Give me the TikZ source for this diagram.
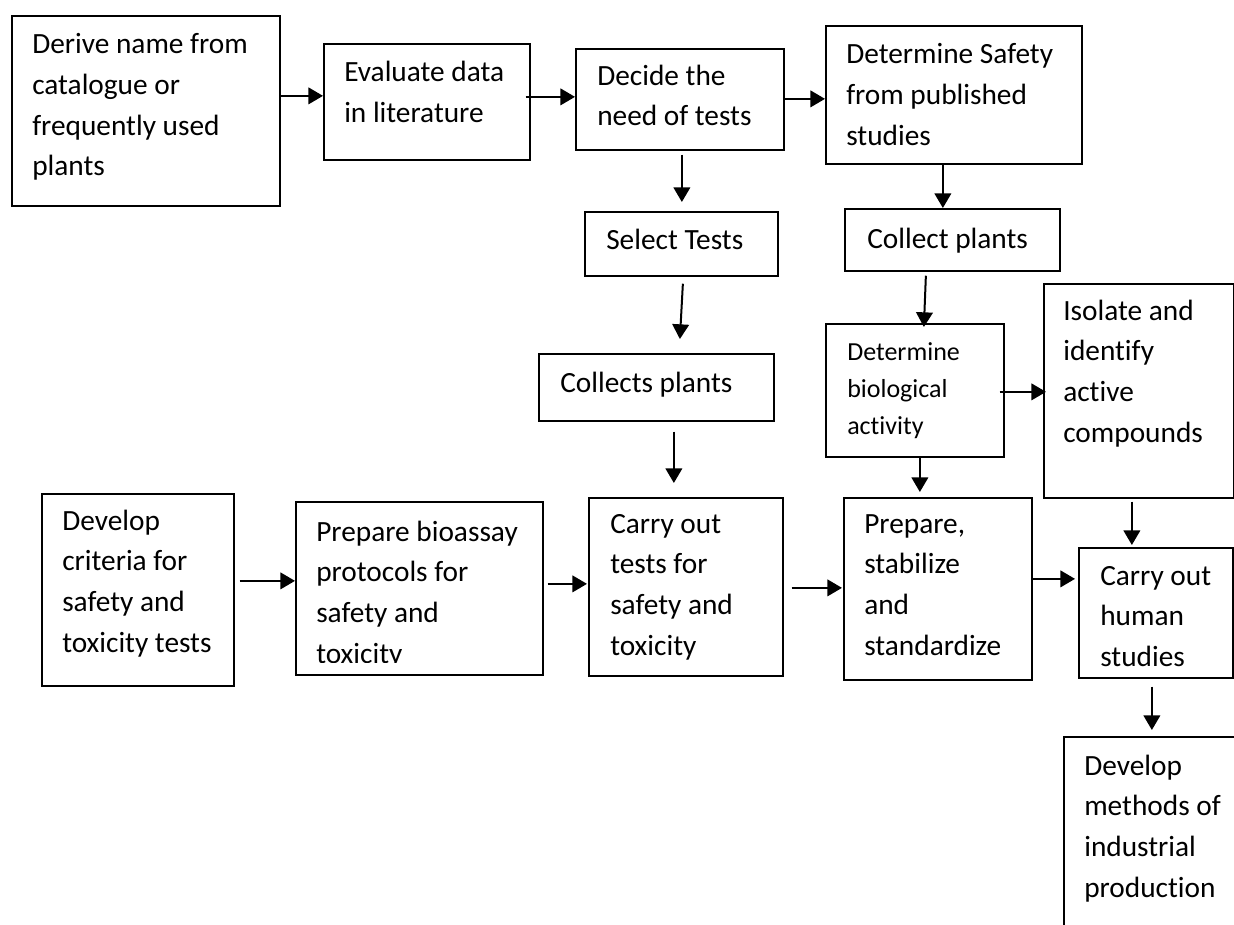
\documentclass[tikz,border=0pt]{standalone}
\usepackage{fontspec}
\setmainfont[Ligatures=NoCommon]{Carlito}
\usetikzlibrary{calc,arrows.meta}
\newcommand\ml[1]{\parbox[t]{300pt}{\raggedright #1}}
\newcommand\bx[5]{\node[box, minimum width=#4*0.75pt, minimum height=#5*0.75pt] (#1) at (#2,#3) {};}
\begin{document}
\begin{tikzpicture}[x=0.75pt,y=-0.75pt,
  box/.style={draw, line width=1.3pt, inner sep=0pt, anchor=north west},
  txt/.style={inner sep=0pt, anchor=base west, font=\fontsize{22}{30.5}\selectfont},
  txts/.style={inner sep=0pt, anchor=base west, font=\fontsize{19.5}{28}\selectfont},
  arr/.style={line width=1.5pt, -{Triangle[length=11pt,width=12.5pt]}}]
\useasboundingbox (0,0) rectangle (1234,924);
% boxes
\bx{b1}{11}{15}{268}{190}
\bx{b2}{323}{43}{206}{116}
\bx{b3}{575}{48}{208}{101}
\bx{b4}{825}{25}{256}{138}
\bx{sel}{584}{211}{193}{64}
\bx{col}{844}{208}{215}{62}
\bx{cols}{538}{353}{235}{67}
\bx{det}{825}{323}{178}{133}
\bx{iso}{1043}{283}{190}{214}
\bx{dev}{41}{493}{192}{192}
\bx{bio}{295}{501}{247}{173}
\bx{car}{588}{497}{194}{178}
\bx{pss}{843}{497}{188}{182}
\bx{hum}{1078}{547}{154}{130}
\bx{ind}{1063}{736}{260}{260}
% texts
\node[txt] (t1) at (32,54) {\ml{Derive name from\\catalogue or\\frequently used\\plants}};
\node[txt] (t2) at (344,82) {\ml{Evaluate data\\in literature}};
\node[txt] (t3) at (597,85) {\ml{Decide the\\need of tests}};
\node[txt] (t4) at (846,64) {\ml{Determine Safety\\from published\\studies}};
\node[txt] (t5) at (606,249) {\ml{Select Tests}};
\node[txt] (t6) at (867,248) {\ml{Collect plants}};
\node[txt] (t7) at (560,392) {\ml{Collects plants}};
\node[txts] (t8) at (847,360) {\ml{Determine\\biological\\activity}};
\node[txt] (t9) at (1063,320) {\ml{Isolate and\\identify\\active\\compounds}};
\node[txt] (t10) at (62,530) {\ml{Develop\\criteria for\\safety and\\toxicity tests}};
\begin{scope}
\clip (296,502) rectangle (541,662);
\node[txt] (t11) at (316,541) {\ml{Prepare bioassay\\protocols for\\safety and\\toxicity}};
\end{scope}
\node[txt] (t12) at (610,533) {\ml{Carry out\\tests for\\safety and\\toxicity}};
\node[txt] (t13) at (864,533) {\ml{Prepare,\\stabilize\\and\\standardize}};
\begin{scope}
\clip (1079,548) rectangle (1231,667);
\node[txt] (t14) at (1100,585) {\ml{Carry out\\human\\studies}};
\end{scope}
\node[txt] (t15) at (1084,775) {\ml{Develop\\methods of\\industrial\\production}};
% arrows
\draw[arr] ($(b1.east)+(0,-15)$) -- ($(b2.west)+(0,-6)$);
\draw[arr] ($(b2.east)+(-5,-5)$) -- ($(b3.west)+(0,-2.5)$);
\draw[arr] ($(b3.east)+(0,-0.5)$) -- ($(b4.west)+(0,4)$);
\draw[arr] ($(b3.south)+(2,4)$) -- ($(sel.north)+(0.5,-9)$);
\draw[arr] ($(b4.south)+(-11,0)$) -- ($(col.north)+(-9.5,0)$);
\draw[arr] ($(col.south)+(-26.5,4)$) -- ($(det.north)+(9,4)$);
\draw[arr] ($(sel.south)+(1.5,7)$) -- ($(cols.north)+(23.5,-14)$);
\draw[arr] ($(cols.south)+(17.5,10)$) -- ($(car.north)+(-12,-14)$);
\draw[arr] ($(det.south)+(5,0)$) -- ($(pss.north)+(-18,-5)$);
\draw[arr] ($(det.east)+(-5,1.5)$) -- ($(iso.west)+(3,1)$);
\draw[arr] ($(iso.south)+(-7,3)$) -- ($(hum.north)+(-24,-2)$);
\draw[arr] ($(dev.east)+(5,-9)$) -- ($(bio.west)+(0,-7.5)$);
\draw[arr] ($(bio.east)+(4,-4.5)$) -- ($(car.west)+(-1,-3)$);
\draw[arr] ($(car.east)+(8,1)$) -- ($(pss.west)+(-1,-1)$);
\draw[arr] ($(pss.east)+(0,-10)$) -- ($(hum.west)+(-3,-34)$);
\draw[arr] ($(hum.south)+(-4,8)$) -- ($(ind.north -| hum.south)+(-4,-6)$);
\end{tikzpicture}
\end{document}
